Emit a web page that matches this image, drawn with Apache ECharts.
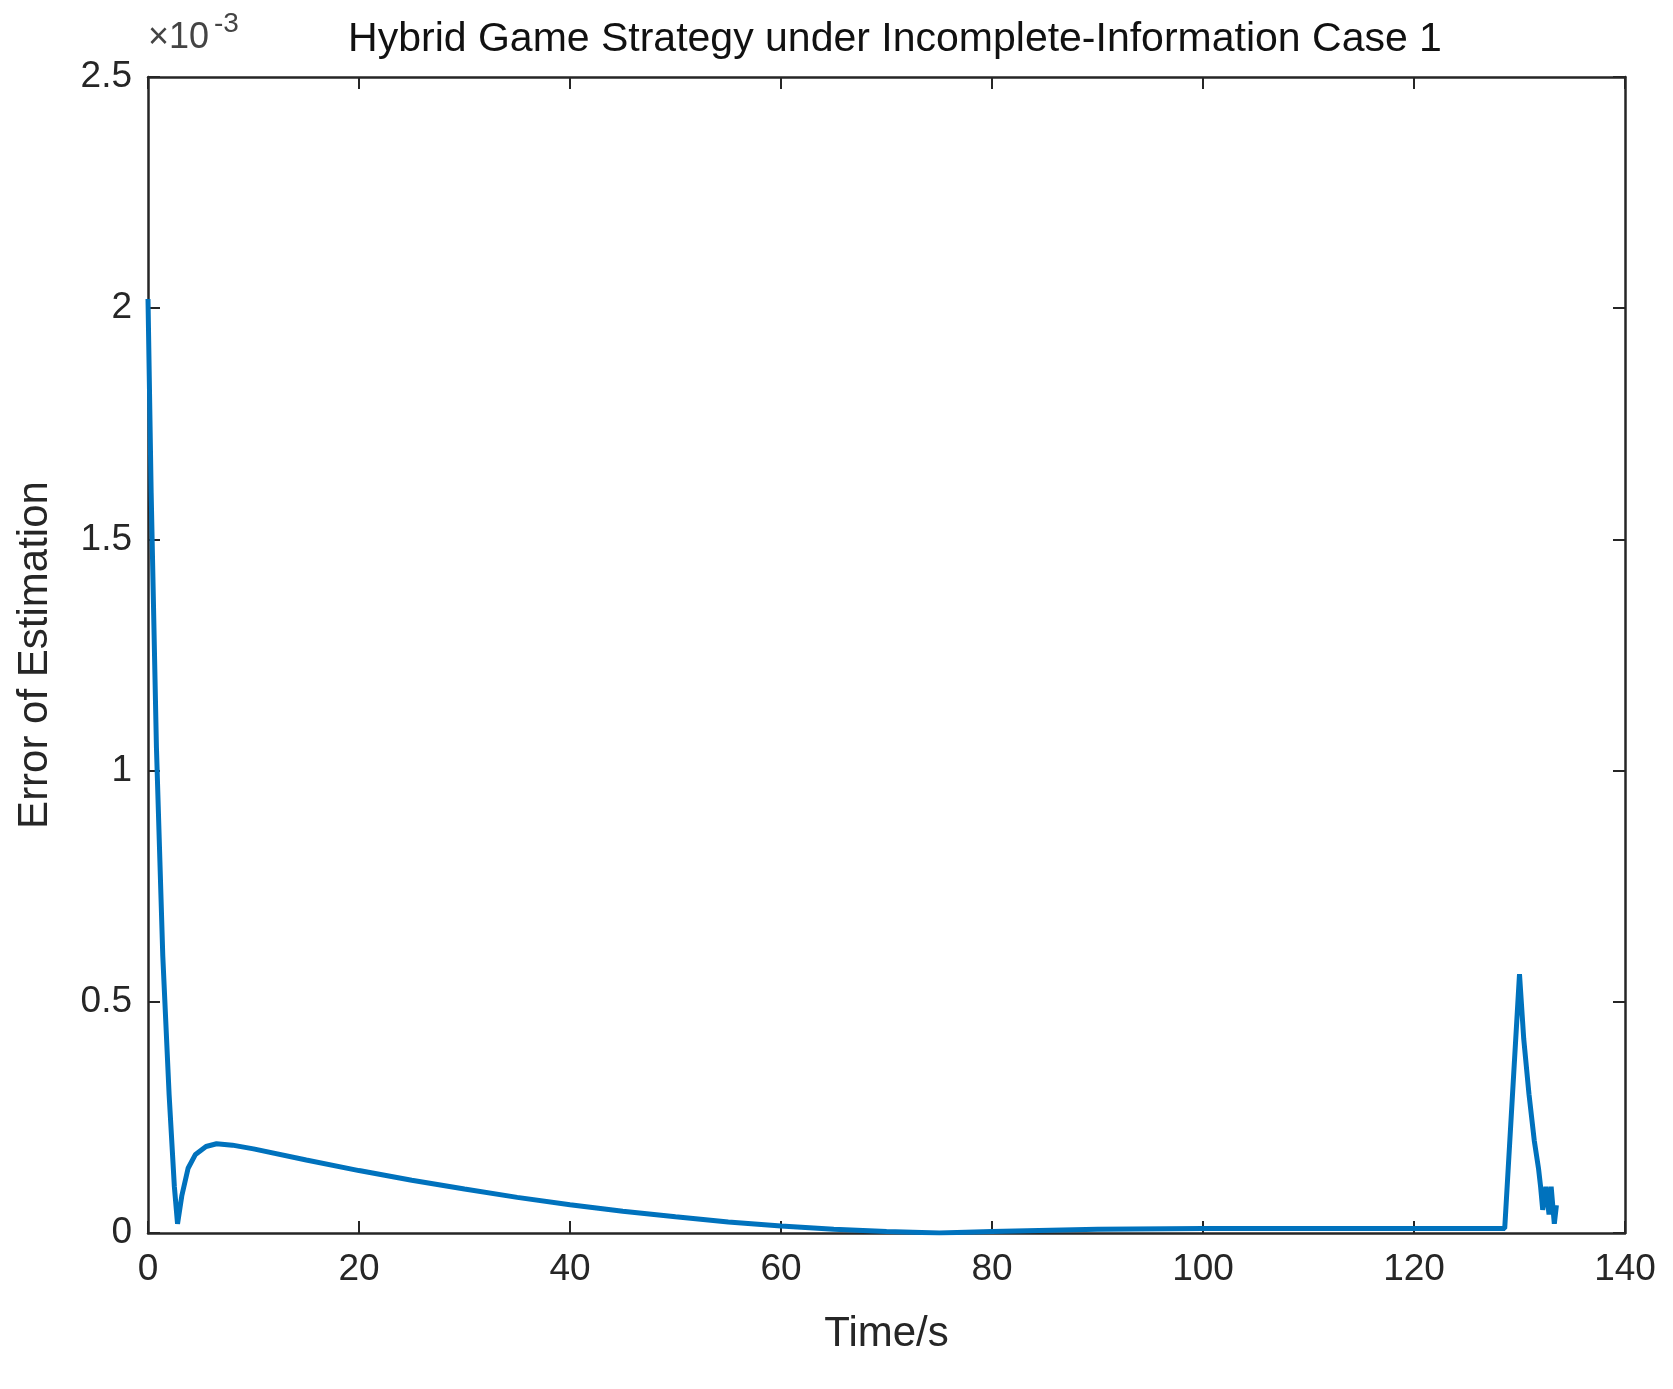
<!DOCTYPE html>
<html>
<head>
<meta charset="utf-8">
<script src="https://cdn.jsdelivr.net/npm/echarts@6/dist/echarts.min.js"></script>
<style>html,body{margin:0;background:#fff}#main{width:1673px;height:1389px}</style>
</head>
<body>
<div id="main"></div>
<script>
// time in seconds, error in units of 1e-3
const timeS = [0, 0.3, 0.8, 1.4, 2.0, 2.5, 2.8, 3.2, 3.8, 4.5, 5.5, 6.5, 8, 10, 15, 20, 25, 30, 35, 40, 45, 50, 55, 60, 65, 70, 75, 80, 90, 100, 110, 120, 128.6, 130.0, 130.4, 130.9, 131.4, 131.8, 132.0, 132.2, 132.5, 132.8, 133.0, 133.3, 133.5];
const errorVals = [2.02, 1.6, 1.05, 0.6, 0.3, 0.1, 0.02, 0.08, 0.14, 0.17, 0.187, 0.193, 0.19, 0.182, 0.158, 0.135, 0.114, 0.095, 0.077, 0.061, 0.047, 0.035, 0.024, 0.015, 0.008, 0.003, 0.0, 0.003, 0.008, 0.01, 0.01, 0.01, 0.01, 0.56, 0.42, 0.3, 0.2, 0.14, 0.1, 0.05, 0.1, 0.04, 0.1, 0.02, 0.06];
const xTicks = [0, 140, 20];
const yTicks = [0, 2.5, 0.5];

const chart = echarts.init(document.getElementById('main'));
const font = 'Liberation Sans, Arial, sans-serif';
const axisCommon = {
    axisLine: { show: true, onZero: false, lineStyle: { color: '#262626', width: 2.5 } },
    axisTick: { inside: true, length: 12, lineStyle: { color: '#262626', width: 2 } },
    splitLine: { show: false }
};
chart.setOption({
    animation: false,
    title: {
        text: 'Hybrid Game Strategy under Incomplete-Information Case 1',
        left: 890, top: 14, textAlign: 'center',
        textStyle: { fontFamily: font, fontSize: 41, fontWeight: 'normal', color: '#111' }
    },
    graphic: [{
        type: 'text', left: 148, top: 20,
        style: { text: '×10', font: '36px ' + font, fill: '#444' }
    }, {
        type: 'text', left: 214, top: 10,
        style: { text: '-3', font: '28px ' + font, fill: '#444' }
    }],
    grid: { left: 148, right: 48, top: 77, bottom: 156 },
    xAxis: [Object.assign({
        type: 'value', min: xTicks[0], max: xTicks[1], interval: xTicks[2], position: 'bottom',
        name: 'Time/s', nameLocation: 'middle', nameGap: 80,
        nameTextStyle: { fontFamily: font, fontSize: 42, color: '#262626' },
        axisLabel: { fontFamily: font, fontSize: 37, color: '#262626', margin: 18 }
    }, axisCommon), Object.assign({
        type: 'value', min: xTicks[0], max: xTicks[1], interval: xTicks[2], position: 'top',
        axisLabel: { show: false }
    }, axisCommon)],
    yAxis: [Object.assign({
        type: 'value', min: yTicks[0], max: yTicks[1], interval: yTicks[2], position: 'left',
        name: 'Error of Estimation', nameLocation: 'middle', nameGap: 92,
        nameTextStyle: { fontFamily: font, fontSize: 42, color: '#262626' },
        axisLabel: { fontFamily: font, fontSize: 37, color: '#262626', margin: 16 }
    }, axisCommon), Object.assign({
        type: 'value', min: yTicks[0], max: yTicks[1], interval: yTicks[2], position: 'right',
        axisLabel: { show: false }
    }, axisCommon)],
    series: [{
        type: 'line', showSymbol: false, smooth: false,
        data: timeS.map((t, i) => [t, errorVals[i]]),
        lineStyle: { color: '#0072BD', width: 5 }
    }]
});
</script>
</body>
</html>
